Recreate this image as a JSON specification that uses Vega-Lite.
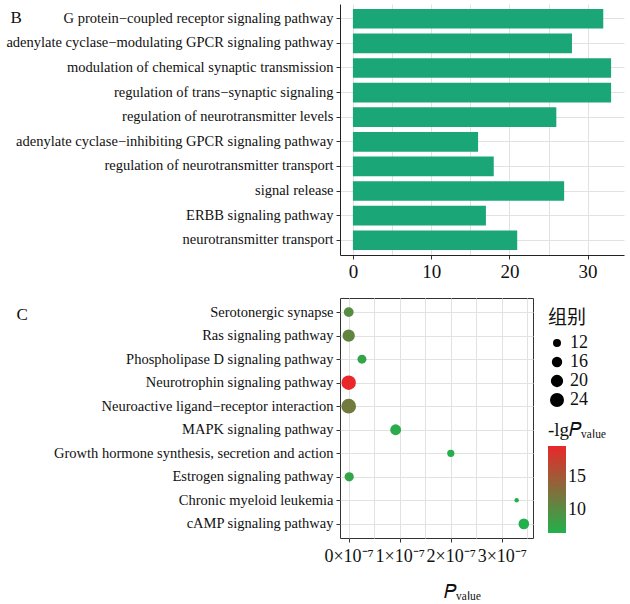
{
  "$schema": "https://vega.github.io/schema/vega-lite/v6.json",
  "padding": {"left": 5, "top": 4, "right": 2, "bottom": 0},
  "background": "white",
  "config": {
    "font": "Liberation Serif",
    "axis": {"labelFont": "Liberation Serif", "titleFont": "Liberation Serif", "labelColor": "#111111", "tickColor": "#333333", "domainColor": "#222222", "titleFontWeight": "normal", "titleColor": "#111111"},
    "legend": {"labelFont": "Liberation Serif", "titleFont": "Liberation Serif", "labelColor": "#111111", "titleColor": "#111111", "titleFontWeight": "normal"},
    "concat": {"spacing": 16}
  },
  "vconcat": [
    {
      "width": 284,
      "height": 251,
      "view": {"stroke": null},
      "data": {"values": [
        {"term": "G protein−coupled receptor signaling pathway", "count": 32},
        {"term": "adenylate cyclase−modulating GPCR signaling pathway", "count": 28},
        {"term": "modulation of chemical synaptic transmission", "count": 33},
        {"term": "regulation of trans−synaptic signaling", "count": 33},
        {"term": "regulation of neurotransmitter levels", "count": 26},
        {"term": "adenylate cyclase−inhibiting GPCR signaling pathway", "count": 16},
        {"term": "regulation of neurotransmitter transport", "count": 18},
        {"term": "signal release", "count": 27},
        {"term": "ERBB signaling pathway", "count": 17},
        {"term": "neurotransmitter transport", "count": 21}
      ]},
      "mark": {"type": "bar", "color": "#1BA678"},
      "encoding": {
        "y": {
          "field": "term", "type": "nominal", "sort": null,
          "scale": {"paddingInner": 0.2, "paddingOuter": 0.2},
          "axis": {
            "title": "B", "titleAngle": 0, "titleX": -330, "titleY": 13, "titleAlign": "left", "titleBaseline": "middle", "titleFontSize": 17,
            "labelFontSize": 14.5, "labelLimit": 400, "labelPadding": 3, "tickSize": 4,
            "grid": true, "gridColor": "#E2E2E2", "bandPosition": 0.5, "domain": true
          }
        },
        "x": {
          "field": "count", "type": "quantitative",
          "scale": {"domain": [-1.65, 34.65], "nice": false, "zero": false},
          "axis": {
            "title": null, "values": [0, 5, 10, 15, 20, 25, 30],
            "labelExpr": "datum.value % 10 === 0 ? datum.label : ''",
            "tickOpacity": {"condition": {"test": "datum.value % 10 !== 0", "value": 0}, "value": 1},
            "labelFontSize": 19, "tickSize": 4, "labelPadding": 3,
            "grid": true, "gridColor": "#E2E2E2", "domain": true
          }
        }
      }
    },
    {
      "width": 193,
      "height": 240,
      "view": {"stroke": "#333333", "strokeWidth": 1},
      "data": {"values": [
        {"term": "Serotonergic synapse", "P": 1e-10, "lgP": 10.0, "count": 15},
        {"term": "Ras signaling pathway", "P": 2e-11, "lgP": 10.7, "count": 20},
        {"term": "Phospholipase D signaling pathway", "P": 2.6e-8, "lgP": 7.59, "count": 13.5},
        {"term": "Neurotrophin signaling pathway", "P": 2e-20, "lgP": 19.7, "count": 25},
        {"term": "Neuroactive ligand−receptor interaction", "P": 1.6e-12, "lgP": 11.8, "count": 26},
        {"term": "MAPK signaling pathway", "P": 9.2e-8, "lgP": 7.04, "count": 17},
        {"term": "Growth hormone synthesis, secretion and action", "P": 2.0e-7, "lgP": 6.7, "count": 11},
        {"term": "Estrogen signaling pathway", "P": 1e-9, "lgP": 7.6, "count": 14},
        {"term": "Chronic myeloid leukemia", "P": 3.29e-7, "lgP": 6.48, "count": 8},
        {"term": "cAMP signaling pathway", "P": 3.43e-7, "lgP": 6.46, "count": 16.5}
      ]},
      "mark": {"type": "circle", "opacity": 1},
      "encoding": {
        "y": {
          "field": "term", "type": "nominal", "sort": null,
          "scale": {"type": "point", "padding": 0.6},
          "axis": {
            "title": "C", "titleAngle": 0, "titleX": -324, "titleY": 16, "titleAlign": "left", "titleBaseline": "middle", "titleFontSize": 17,
            "labelFontSize": 14.5, "labelLimit": 400, "labelPadding": 3, "tickSize": 4,
            "grid": true, "gridColor": "#E2E2E2", "domain": false
          }
        },
        "x": {
          "field": "P", "type": "quantitative",
          "scale": {"domain": [-1.7e-8, 3.61e-7], "nice": false, "zero": false},
          "axis": {
            "title": "𝑃ᵥₐₗᵤₑ", "titleFontSize": 19, "titlePadding": 17, "titleX": 122,
            "values": [0, 5e-8, 1e-7, 1.5e-7, 2e-7, 2.5e-7, 3e-7, 3.5e-7],
            "labelExpr": "abs(datum.value / 1e-7 - round(datum.value / 1e-7)) < 1e-6 ? format(round(datum.value / 1e-7), 'd') + '×10⁻⁷' : ''",
            "tickOpacity": {"condition": {"test": "abs(datum.value / 1e-7 - round(datum.value / 1e-7)) > 1e-6", "value": 0}, "value": 1},
            "labelFontSize": 18, "tickSize": 4, "labelPadding": 5,
            "grid": true, "gridColor": "#E2E2E2", "domain": false
          }
        },
        "size": {
          "field": "count", "type": "quantitative",
          "scale": {"domain": [8, 27], "range": [20, 229], "zero": false},
          "legend": {
            "title": "组别", "titleFont": "Noto Sans CJK SC", "titleFontSize": 19, "titlePadding": 6,
            "values": [12, 16, 20, 24], "symbolFillColor": "#000000", "symbolStrokeColor": "#000000", "symbolStrokeWidth": 0,
            "labelFontSize": 18, "rowPadding": 1, "labelOffset": 4,
            "orient": "none", "legendX": 208, "legendY": 305
          }
        },
        "color": {
          "field": "lgP", "type": "quantitative",
          "scale": {"domain": [6.46, 19.7], "range": ["#22B14C", "#E8282A"], "interpolate": "rgb"},
          "legend": {
            "title": "-lg𝑃ᵥₐₗᵤₑ", "titleFontSize": 19, "titlePadding": 6,
            "values": [10, 15], "gradientLength": 87, "gradientThickness": 18, "labelFontSize": 18,
            "orient": "none", "legendX": 208, "legendY": 417, "direction": "vertical"
          }
        }
      }
    }
  ]
}
